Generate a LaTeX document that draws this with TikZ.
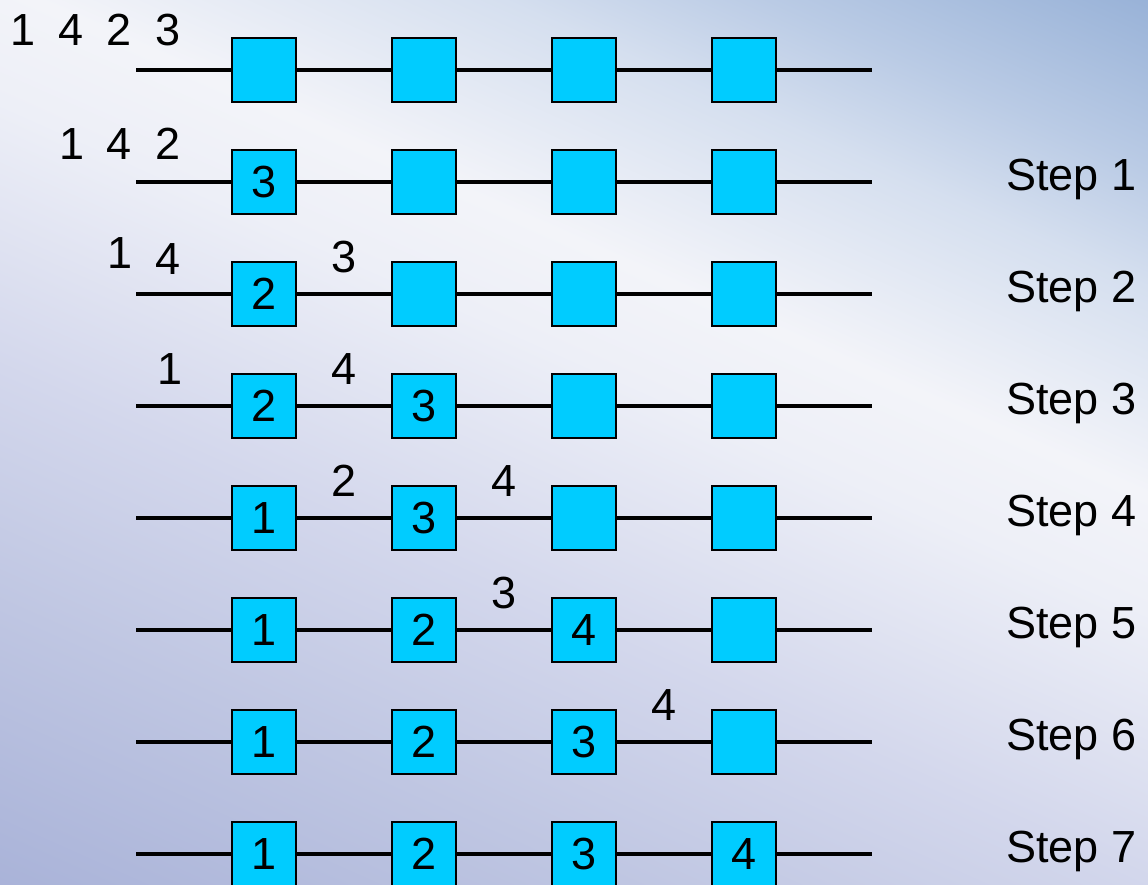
\documentclass[tikz,border=0pt]{standalone}
\usepackage{fontspec}
\setmainfont{Liberation Sans}
\usepackage{tikz}

\definecolor{boxcyan}{HTML}{00CCFF}

% backdrop: light band running from upper left to right middle
\pgfdeclareverticalshading{backdrop}{100bp}{%
  color(0bp)=(rgb,255:red,166;green,176;blue,215);
  color(25bp)=(rgb,255:red,166;green,176;blue,215);
  color(36bp)=(rgb,255:red,191;green,198;blue,226);
  color(44bp)=(rgb,255:red,211;green,215;blue,236);
  color(53bp)=(rgb,255:red,237;green,239;blue,247);
  color(57bp)=(rgb,255:red,243;green,244;blue,249);
  color(64bp)=(rgb,255:red,213;green,223;blue,239);
  color(68bp)=(rgb,255:red,186;green,203;blue,229);
  color(74bp)=(rgb,255:red,151;green,177;blue,215);
  color(100bp)=(rgb,255:red,146;green,173;blue,213)}

\tikzset{
  stage/.style={draw=black, line width=1.4pt, fill=boxcyan, minimum size=1.6cm, inner sep=0pt},
  wire/.style={line width=3.5pt},
  job/.style={inner sep=0pt},
  steplabel/.style={inner sep=0pt, anchor=base west}
}

\begin{document}
\begin{tikzpicture}[x=0.025cm, y=-0.025cm, font=\fontsize{32}{38}\selectfont]
% background
\useasboundingbox (0,0) rectangle (1148,884);
\begin{scope}
  \clip (0,0) rectangle (1148,884);
  \begin{scope}[transform canvas={rotate around={-24:(250,0)}}]
    \shade[shading=backdrop] (-50,-400) rectangle (1500,950);
  \end{scope}
\end{scope}

% rows of stages
\foreach \r/\a/\b/\c/\d in {0/{}/{}/{}/{}, 1/3/{}/{}/{}, 2/2/{}/{}/{}, 3/2/3/{}/{},
    4/1/3/{}/{}, 5/1/2/4/{}, 6/1/2/3/{}, 7/1/2/3/4}{
  \coordinate (in\r) at (136,70+112*\r);
  \coordinate (out\r) at (872,70+112*\r);
  \node[stage] (q\r-1) at (264,70+112*\r) {\a};
  \node[stage] (q\r-2) at (424,70+112*\r) {\b};
  \node[stage] (q\r-3) at (584,70+112*\r) {\c};
  \node[stage] (q\r-4) at (744,70+112*\r) {\d};
  \draw[wire] (in\r) -- (q\r-1) -- (q\r-2) -- (q\r-3) -- (q\r-4) -- (out\r);
}

% step labels
\foreach \r in {1,...,7}
  \node[steplabel] (step\r) at (1006,78+112*\r) {Step \r};

% waiting jobs
\node[job] (w0a) at (23,30) {1};
\node[job] (w0b) at (71,30) {4};
\node[job] (w0c) at (119,30) {2};
\node[job] (w0d) at (168,30) {3};

\node[job] (w1a) at (72,144) {1};
\node[job] (w1b) at (119,144) {4};
\node[job] (w1c) at (168,144) {2};

\node[job] (w2a) at (120,253) {1};
\node[job] (w2b) at (168,259) {4};
\node[job] (w2c) at (344,257) {3};

\node[job] (w3a) at (170,369) {1};
\node[job] (w3b) at (344,369) {4};

\node[job] (w4a) at (344,481) {2};
\node[job] (w4b) at (504,481) {4};

\node[job] (w5a) at (504,593) {3};

\node[job] (w6a) at (664,705) {4};
\end{tikzpicture}
\end{document}
